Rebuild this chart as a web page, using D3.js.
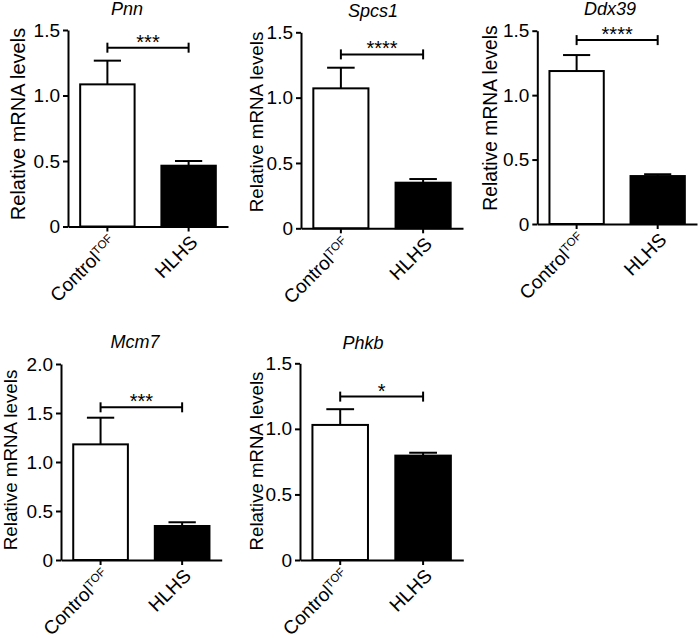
<!DOCTYPE html>
<html>
<head>
<meta charset="utf-8">
<script src="https://cdn.jsdelivr.net/npm/d3@7"></script>
<style>
  body { margin: 0; background: #fff; }
  svg { font-family: "Liberation Sans", Arial, Helvetica, sans-serif; }
</style>
</head>
<body>
<div id="chart"></div>
<script>
var genes = ["Pnn", "Spcs1", "Ddx39", "Mcm7", "Phkb"],
    groups = ["Control", "HLHS"],
    controlMean = [1.085, 1.071, 1.187, 1.18, 1.03],
    controlSem  = [0.181, 0.158, 0.124, 0.272, 0.12],
    hlhsMean = [0.464, 0.349, 0.372, 0.347, 0.796],
    hlhsSem  = [0.036, 0.028, 0.014, 0.038, 0.022],
    stars = ["***", "****", "****", "***", "*"],
    yMax = [1.5, 1.5, 1.5, 2.0, 1.5],
    bracketLevel = [1.365, 1.331, 1.427, 1.558, 1.246];

// panel placement (pixels): axis corners, title spot, y label spot
var panels = [
  {x0: 68,  x1: 228, yTop: 30,  y0: 226.5, tx: 127, ty: 15,  lx: 25,  ly: 124, lfs: 20},
  {x0: 301, x1: 463, yTop: 32.3, y0: 228.3, tx: 373, ty: 16.5, lx: 263, ly: 122, lfs: 18.8},
  {x0: 537.3, x1: 697, yTop: 30.7, y0: 224, tx: 610, ty: 15,  lx: 497, ly: 118, lfs: 19.3},
  {x0: 61,  x1: 221.7, yTop: 364, y0: 560, tx: 135, ty: 348, lx: 17,  ly: 460, lfs: 18.8},
  {x0: 300, x1: 463.3, yTop: 363.3, y0: 560, tx: 363, ty: 349, lx: 263, ly: 461, lfs: 18.6}
];

var svg = d3.select("#chart")
            .append("svg")
            .attr("width", 700)
            .attr("height", 638);

var fmt = function(d){ return d === 0 ? "0" : d3.format(".1f")(d); };

genes.forEach(function(gene, i) {
    var p = panels[i];
    var g = svg.append("g");

    var x = d3.scaleBand().domain(groups).range([p.x0, p.x1])
              .paddingInner(0.33).paddingOuter(0.15);
    var y = d3.scaleLinear().domain([0, yMax[i]]).range([p.y0, p.yTop]);

    var bars = [
        {grp: "Control", mean: controlMean[i], sem: controlSem[i], fill: "#fff"},
        {grp: "HLHS", mean: hlhsMean[i], sem: hlhsSem[i], fill: "#000"}
    ];

    // error bars (upper only)
    bars.forEach(function(b) {
        var cx = x(b.grp) + x.bandwidth() / 2,
            cap = x.bandwidth() / 4;
        g.append("line")
         .attr("x1", cx).attr("x2", cx)
         .attr("y1", y(b.mean)).attr("y2", y(b.mean + b.sem))
         .attr("stroke", "#000").attr("stroke-width", 2);
        g.append("line")
         .attr("x1", cx - cap).attr("x2", cx + cap)
         .attr("y1", y(b.mean + b.sem)).attr("y2", y(b.mean + b.sem))
         .attr("stroke", "#000").attr("stroke-width", 2);
    });

    g.selectAll("rect.bar")
     .data(bars)
     .enter()
     .append("rect")
     .attr("class", "bar")
     .attr("x", function(d){ return x(d.grp); })
     .attr("width", x.bandwidth())
     .attr("y", function(d){ return y(d.mean); })
     .attr("height", function(d){ return y(0) - y(d.mean); })
     .style("fill", function(d){ return d.fill; })
     .style("stroke", "#000")
     .style("stroke-width", 2);

    // y axis
    var ya = g.append("g")
              .attr("transform", "translate(" + p.x0 + ",0)")
              .call(d3.axisLeft(y).ticks(yMax[i] / 0.5).tickSize(5).tickSizeOuter(0).tickPadding(3).tickFormat(fmt));
    ya.selectAll("path, line").attr("stroke", "#000").attr("stroke-width", 2);
    ya.selectAll("text").attr("font-family", null).style("font-size", "19px").attr("fill", "#000");

    // x axis
    var xa = g.append("g")
              .attr("transform", "translate(0," + p.y0 + ")")
              .call(d3.axisBottom(x).tickSize(5).tickSizeOuter(0));
    xa.selectAll("path, line").attr("stroke", "#000").attr("stroke-width", 2);
    xa.selectAll(".tick text").remove();
    xa.selectAll(".tick")
      .append("text")
      .attr("font-family", null)
      .attr("text-anchor", "end")
      .attr("fill", "#000")
      .style("font-size", "19px")
      .attr("transform", "translate(10,17) rotate(-45)")
      .each(function(d) {
          var t = d3.select(this);
          t.append("tspan").text(d);
          if (d === "Control") {
              t.append("tspan").attr("dy", "-0.55em").style("font-size", "11.5px").text("TOF");
          }
      });

    // significance bracket
    var bx1 = x("Control") + x.bandwidth() / 2,
        bx2 = x("HLHS") + x.bandwidth() / 2,
        by = y(bracketLevel[i]);
    g.append("line").attr("x1", bx1).attr("x2", bx2).attr("y1", by).attr("y2", by)
     .attr("stroke", "#000").attr("stroke-width", 2);
    [bx1, bx2].forEach(function(bx) {
        g.append("line").attr("x1", bx).attr("x2", bx).attr("y1", by - 5).attr("y2", by + 5)
         .attr("stroke", "#000").attr("stroke-width", 2);
    });
    g.append("text")
     .attr("x", (bx1 + bx2) / 2)
     .attr("y", by + 1)
     .attr("text-anchor", "middle")
     .style("font-size", "20px")
     .text(stars[i]);

    // title
    g.append("text")
     .attr("x", p.tx).attr("y", p.ty)
     .attr("text-anchor", "middle")
     .style("font-size", "18px")
     .style("font-style", "italic")
     .text(gene);

    // y label
    g.append("text")
     .attr("transform", "translate(" + p.lx + "," + p.ly + ") rotate(-90)")
     .attr("text-anchor", "middle")
     .style("font-size", p.lfs + "px")
     .text("Relative mRNA levels");
});
</script>
</body>
</html>
